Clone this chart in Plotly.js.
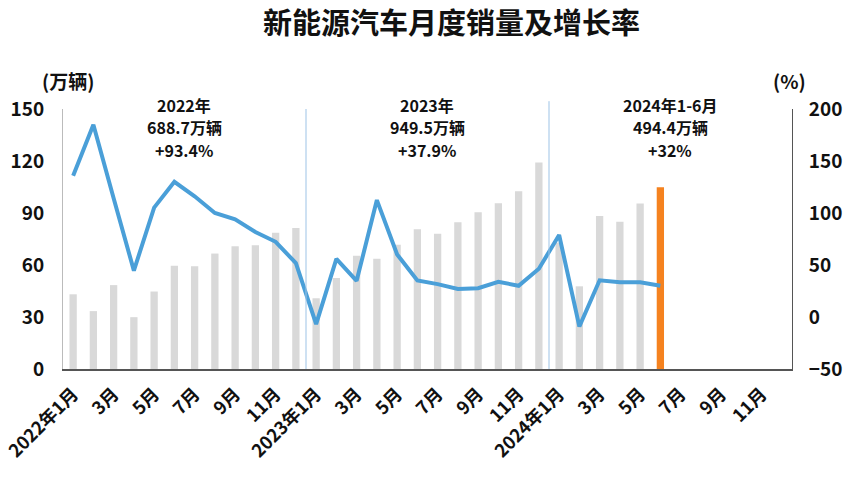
<!DOCTYPE html>
<html><head><meta charset="utf-8">
<script src="https://cdn.plot.ly/plotly-3.0.1.min.js"></script>
<style>html,body{margin:0;padding:0;background:#fff}#c{width:852px;height:480px}</style>
</head><body><div id="c"></div>
<script>
// 36 month categories (2022-01 .. 2024-12)
const years = [2022, 2023, 2024];
const categories = [];
years.forEach(y => { for (let m = 1; m <= 12; m++) categories.push(y + '-' + (m < 10 ? '0' + m : m)); });

// Monthly NEV sales (万辆), 2022-01 .. 2024-06
const sales = [43.1, 33.4, 48.4, 29.9, 44.7, 59.6, 59.3, 66.6, 70.8, 71.4, 78.6, 81.4,
               40.8, 52.5, 65.3, 63.6, 71.7, 80.6, 78.0, 84.6, 90.4, 95.6, 102.6, 119.1,
               72.9, 47.7, 88.3, 85.0, 95.5, 104.9];
// Year-on-year growth (%)
const growth = [135.8, 184.8, 114.2, 44.6, 105.2, 130.0, 116.1, 100.0, 93.9, 81.7, 72.3, 51.8,
                -6.9, 55.9, 34.8, 112.4, 60.2, 35.2, 31.6, 27.0, 27.7, 33.9, 30.0, 46.4,
                78.8, -9.2, 35.3, 33.5, 33.3, 30.1];

// Tick labels (every other month)
const tickIdx = [0, 2, 4, 6, 8, 10, 12, 14, 16, 18, 20, 22, 24, 26, 28, 30, 32, 34];
const tickText = ['2022年1月', '3月', '5月', '7月', '9月', '11月',
                  '2023年1月', '3月', '5月', '7月', '9月', '11月',
                  '2024年1月', '3月', '5月', '7月', '9月', '11月'];

// Year summary notes: [period, volume, growth]
const notePeriod = ['2022年', '2023年', '2024年1-6月'];
const noteVolume = ['688.7万辆', '949.5万辆', '494.4万辆'];
const noteGrowth = ['+93.4%', '+37.9%', '+32%'];
const noteCat = [5, 17, 29];

const salesX = categories.slice(0, sales.length);
const barColors = sales.map((v, i) => i === sales.length - 1 ? '#F5821F' : '#D9D9D9');

const FONT = '"Noto Sans CJK SC", "Noto Sans", sans-serif';

const traces = [
  {type: 'bar', x: salesX, y: sales, marker: {color: barColors}, width: 0.36, yaxis: 'y', hoverinfo: 'skip'},
  {type: 'scatter', mode: 'lines', x: salesX, y: growth, yaxis: 'y2',
   line: {color: '#4A9FD8', width: 4}, hoverinfo: 'skip'}
];

const annotations = [];
const lineY = [1.017, 0.930, 0.843];
notePeriod.forEach((p, i) => {
  [p, noteVolume[i], noteGrowth[i]].forEach((t, k) => {
    annotations.push({
      text: t, x: categories[noteCat[i]], xshift: 10.1, xref: 'x', y: lineY[k], yref: 'paper',
      yanchor: 'middle', xanchor: 'center', showarrow: false, align: 'center', borderpad: 0,
      font: {family: FONT, size: 16, color: '#111', weight: 'bold'}
    });
  });
});
annotations.push({text: '(万辆)', xref: 'paper', yref: 'paper', x: 0.007, y: 1.05, xanchor: 'center', yanchor: 'bottom',
  showarrow: false, font: {family: FONT, size: 19, color: '#111', weight: 'bold'}});
annotations.push({text: '(%)', xref: 'paper', yref: 'paper', x: 0.997, y: 1.05, xanchor: 'center', yanchor: 'bottom',
  showarrow: false, font: {family: FONT, size: 19, color: '#111', weight: 'bold'}});

const layout = {
  width: 852, height: 480,
  margin: {l: 63, r: 60, t: 109, b: 111},
  paper_bgcolor: '#fff', plot_bgcolor: 'rgba(0,0,0,0)',
  showlegend: false,
  title: {text: '新能源汽车月度销量及增长率', x: 0.53, xanchor: 'center', y: 0.95, yanchor: 'middle',
          font: {family: FONT, size: 29, color: '#111', weight: 'bold'}},
  xaxis: {type: 'category', categoryorder: 'array', categoryarray: categories, range: [-0.5, 35.5],
          tickmode: 'array', tickvals: tickIdx.map(i => categories[i]), ticktext: tickText,
          tickangle: -45, ticklabelstandoff: 6, tickfont: {family: FONT, size: 18, color: '#111', weight: 'bold'},
          showgrid: false, zeroline: false, showline: true, linecolor: '#555', linewidth: 1.5, ticks: ''},
  yaxis: {range: [0, 150], tickvals: [0, 30, 60, 90, 120, 150], showgrid: false, zeroline: false,
          showline: true, linecolor: '#bbb', linewidth: 1, ticks: '', ticklabelstandoff: 14,
          tickfont: {family: FONT, size: 19, color: '#111', weight: 'bold'}},
  yaxis2: {range: [-50, 200], tickvals: [-50, 0, 50, 100, 150, 200], overlaying: 'y', side: 'right',
           showgrid: false, zeroline: false, showline: true, linecolor: '#555', linewidth: 1, ticks: '',
           ticklabelstandoff: 12,
           tickfont: {family: FONT, size: 19, color: '#111', weight: 'bold'}},
  shapes: [
    {type: 'line', xref: 'x', yref: 'paper', x0: 11.5, x1: 11.5, y0: 0, y1: 1.0, line: {color: '#9DC3E6', width: 1}},
    {type: 'line', xref: 'x', yref: 'paper', x0: 23.5, x1: 23.5, y0: 0, y1: 1.03, line: {color: '#9DC3E6', width: 1}}
  ],
  annotations: annotations
};

Plotly.newPlot('c', traces, layout, {staticPlot: true, displayModeBar: false});
</script></body></html>
